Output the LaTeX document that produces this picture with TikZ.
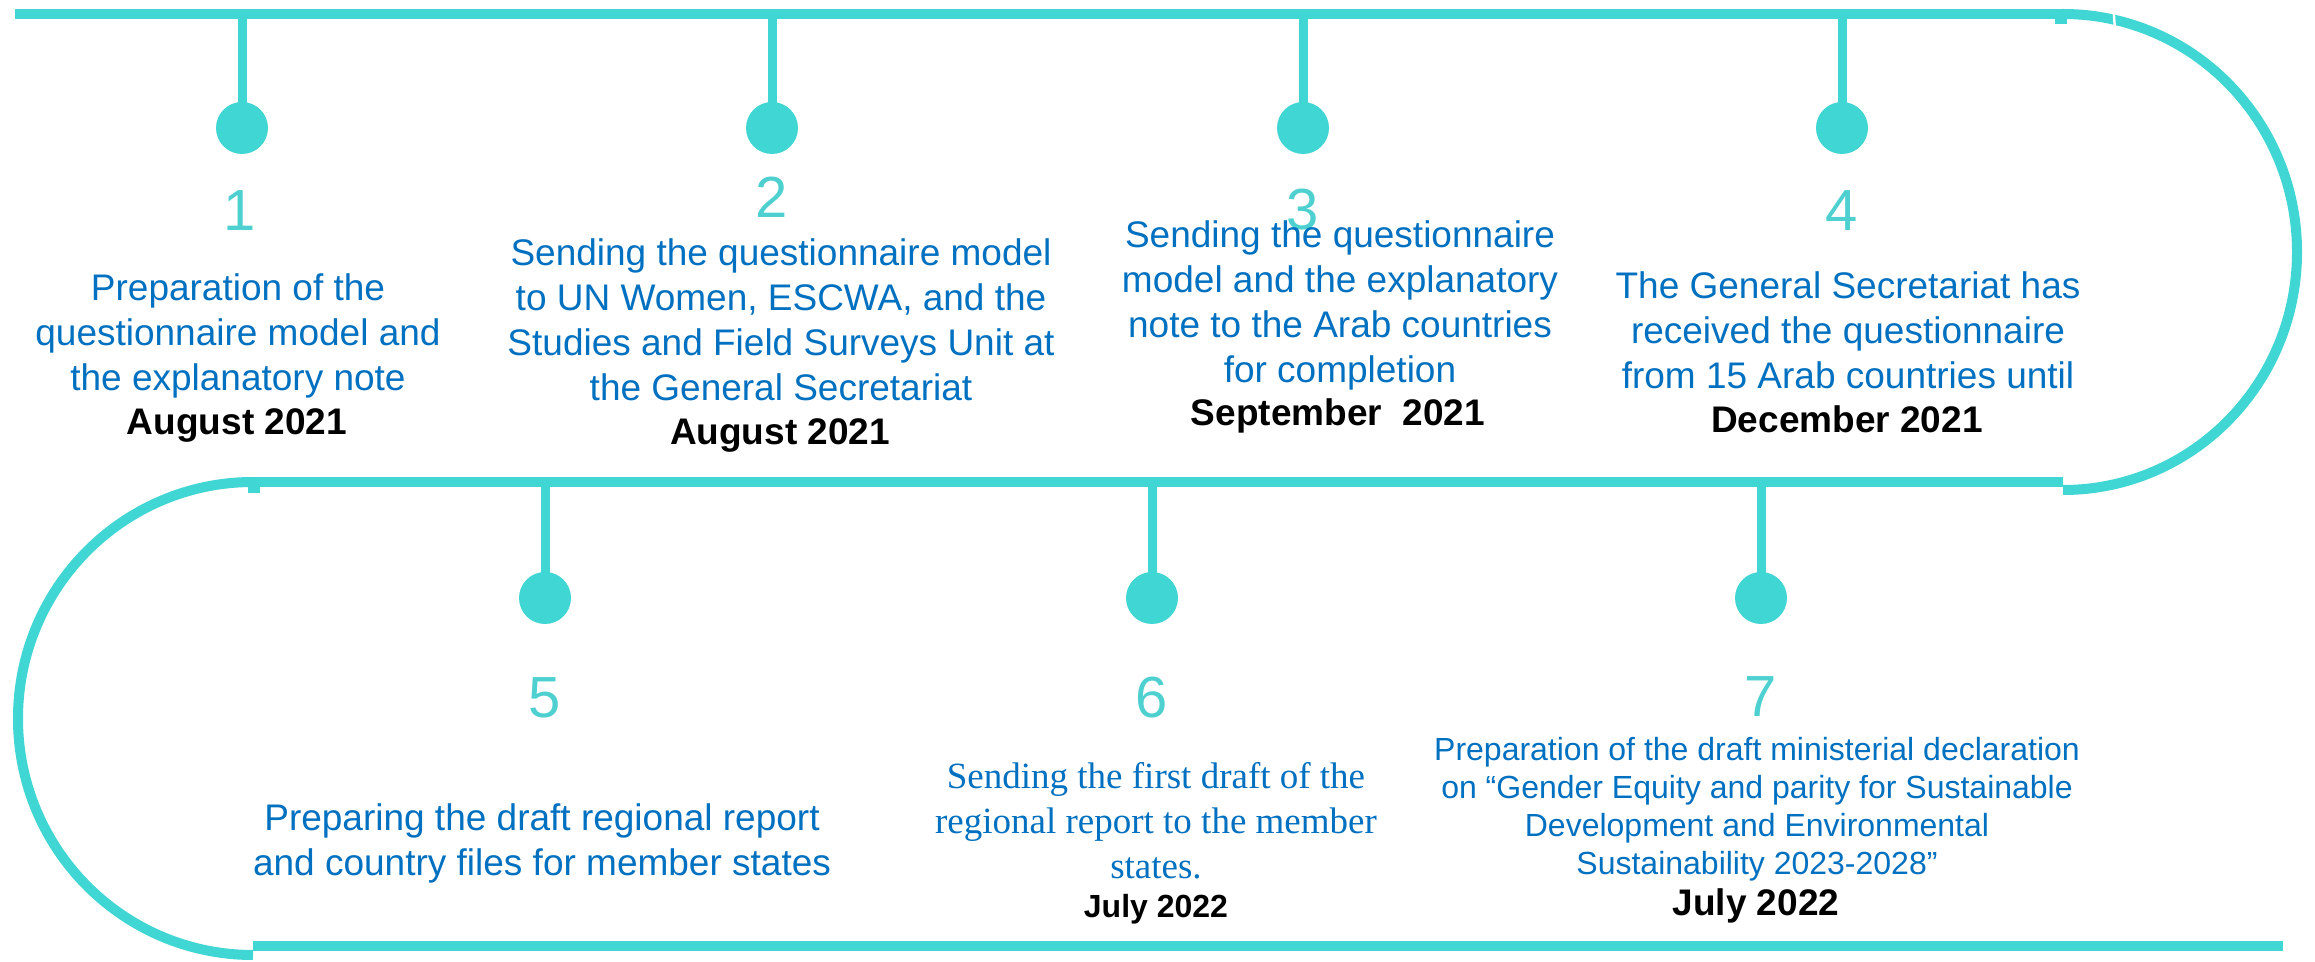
\documentclass[tikz,border=0pt]{standalone}
\usepackage{fontspec}
\setmainfont{Liberation Sans}
\newfontfamily\serifface{Liberation Serif}
\definecolor{lineclr}{RGB}{64,214,211}
\definecolor{numclr}{RGB}{78,208,208}
\definecolor{txtblue}{RGB}{0,112,192}
\begin{document}
\begin{tikzpicture}[x=0.5pt, y=-0.5pt,
  track/.style={line width=5pt, draw=lineclr},
  stem/.style={line width=4.5pt, draw=lineclr},
  dot/.style={circle, fill=lineclr, minimum size=26pt, inner sep=0pt},
  num/.style={text=numclr, inner sep=0pt, font=\fontsize{29}{29}\selectfont},
  desc/.style={anchor=north, align=center, inner sep=0pt, text=txtblue,
    font=\fontsize{18.5}{22.5}\selectfont},
  date/.style={anchor=base, inner sep=0pt, text=black,
    font=\fontsize{18.5}{22.5}\selectfont\bfseries}]

% canvas
\fill[white] (0,0) rectangle (2315,962);
\useasboundingbox (0,0) rectangle (2315,962);

% winding track
\coordinate (topL) at (15,14);
\coordinate (topR) at (2063,14);
\coordinate (midR) at (2063,482);
\coordinate (midL) at (253,482);
\coordinate (botL) at (253,946);
\coordinate (botR) at (2283,946);

\draw[track] (topL) -- (topR);
\draw[track] (topR) arc[start angle=-90, end angle=90, x radius=234, y radius=238];
\draw[track] (midR) -- (midL);
\draw[track] (midL) arc[start angle=-90, end angle=-270, x radius=235, y radius=236.5];
\draw[track] (botL) -- (botR);

% small joints where the bends meet the straight runs
\fill[lineclr] (2055,14) rectangle (2067,24);
\fill[lineclr] (248,482) rectangle (260,493);
\draw[white, line width=1.2pt] (2113,2) -- (2115,30);

% stops on the upper run
\coordinate (s1) at (242,14);
\coordinate (s2) at (772,14);
\coordinate (s3) at (1303,14);
\coordinate (s4) at (1842,14);
\node[dot] (d1) at (242,128) {};
\node[dot] (d2) at (772,128) {};
\node[dot] (d3) at (1303,128) {};
\node[dot] (d4) at (1842,128) {};
\draw[stem] (s1) -- (d1.center);
\draw[stem] (s2) -- (d2.center);
\draw[stem] (s3) -- (d3.center);
\draw[stem] (s4) -- (d4.center);

% stops on the lower run
\coordinate (s5) at (545,482);
\coordinate (s6) at (1152,482);
\coordinate (s7) at (1761,482);
\node[dot] (d5) at (545,598) {};
\node[dot] (d6) at (1152,598) {};
\node[dot] (d7) at (1761,598) {};
\draw[stem] (s5) -- (d5.center);
\draw[stem] (s6) -- (d6.center);
\draw[stem] (s7) -- (d7.center);

% step numbers
\node[num] (n1) at (240,211) {1};
\node[num] (n2) at (772,197) {2};
\node[num] (n3) at (1303,210) {3};
\node[num] (n4) at (1842,211) {4};
\node[num] (n5) at (545,698) {5};
\node[num] (n6) at (1152,698) {6};
\node[num] (n7) at (1761,697) {7};

% step descriptions
\node[desc] (t1) at (238,268.5) {\strut Preparation of the\\questionnaire model and\\the explanatory note};
\node[date] (w1) at (237,435) {August 2021};

\node[desc] (t2) at (781,233.5) {\strut Sending the questionnaire model\\to UN Women, ESCWA, and the\\Studies and Field Surveys Unit at\\the General Secretariat};
\node[date] (w2) at (780,445) {August 2021};

\node[desc] (t3) at (1340,215.5) {\strut Sending the questionnaire\\model and the explanatory\\note to the Arab countries\\for completion};
\node[date] (w3) at (1338,426) {September\ \ 2021};

\node[desc] (t4) at (1848,266.5) {\strut The General Secretariat has\\received the questionnaire\\from 15 Arab countries until};
\node[date] (w4) at (1847,433) {December 2021};

\node[desc] (t5) at (542,798.5) {\strut Preparing the draft regional report\\and country files for member states};

\node[desc, font=\serifface\fontsize{18.5}{22.5}\selectfont] (t6) at (1156,756.5)
  {\strut Sending the first draft of the\\regional report to the member\\states.};
\node[date, font=\fontsize{16}{19}\selectfont\bfseries] (w6) at (1156,917) {July 2022};

\node[desc, font=\fontsize{16}{19}\selectfont] (t7) at (1757,733.4)
  {\strut Preparation of the draft ministerial declaration\\on “Gender Equity and parity for Sustainable\\Development and Environmental\\Sustainability 2023-2028”};
\node[date] (w7) at (1756,915) {July 2022};

\end{tikzpicture}
\end{document}
